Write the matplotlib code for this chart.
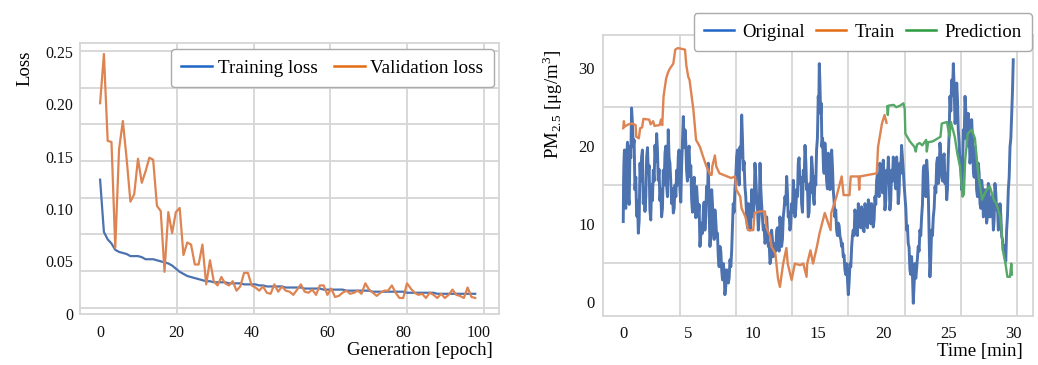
import numpy as np
import matplotlib
matplotlib.use('Agg')
import matplotlib.pyplot as plt
from matplotlib.lines import Line2D

plt.rcParams['font.family'] = ['Liberation Serif', 'DejaVu Serif']
plt.rcParams['mathtext.fontset'] = 'stix'

# ---- left panel: loss curves ----
epochs = np.arange(100)
train_loss = [0.128, 0.078, 0.071, 0.067, 0.061, 0.059, 0.058, 0.057, 0.055, 0.055,
              0.055, 0.054, 0.052, 0.052, 0.052, 0.051, 0.050, 0.049, 0.048, 0.046,
              0.043, 0.040, 0.038, 0.036, 0.035, 0.034, 0.033, 0.032, 0.031, 0.031,
              0.030, 0.030, 0.030, 0.030, 0.029, 0.029, 0.029, 0.029, 0.028, 0.028,
              0.028, 0.028, 0.027, 0.027, 0.026, 0.026, 0.026, 0.026, 0.026, 0.025,
              0.025, 0.025, 0.025, 0.025, 0.024, 0.024, 0.024, 0.024, 0.024, 0.023,
              0.023, 0.023, 0.023, 0.023, 0.023, 0.022, 0.022, 0.022, 0.022, 0.022,
              0.022, 0.022, 0.021, 0.021, 0.021, 0.021, 0.021, 0.021, 0.021, 0.021,
              0.021, 0.020, 0.020, 0.020, 0.020, 0.020, 0.020, 0.020, 0.020, 0.019,
              0.019, 0.019, 0.019, 0.019, 0.019, 0.019, 0.019, 0.019, 0.019, 0.019]
val_loss = [0.201, 0.248, 0.165, 0.164, 0.063, 0.157, 0.184, 0.148, 0.107, 0.114,
            0.148, 0.125, 0.136, 0.149, 0.147, 0.103, 0.098, 0.040, 0.097, 0.077,
            0.097, 0.101, 0.056, 0.068, 0.066, 0.047, 0.047, 0.066, 0.028, 0.051,
            0.031, 0.027, 0.035, 0.029, 0.027, 0.031, 0.022, 0.026, 0.039, 0.039,
            0.027, 0.025, 0.022, 0.026, 0.020, 0.019, 0.028, 0.021, 0.026, 0.022,
            0.021, 0.018, 0.023, 0.028, 0.021, 0.020, 0.023, 0.018, 0.027, 0.027,
            0.018, 0.024, 0.016, 0.017, 0.020, 0.022, 0.019, 0.020, 0.022, 0.019,
            0.029, 0.023, 0.020, 0.017, 0.020, 0.022, 0.022, 0.027, 0.020, 0.015,
            0.015, 0.029, 0.024, 0.020, 0.018, 0.019, 0.015, 0.020, 0.018, 0.015,
            0.019, 0.015, 0.018, 0.023, 0.018, 0.017, 0.015, 0.025, 0.016, 0.015]

# ---- right panel: PM2.5 time series ----
orig_t = [0.0, 0.05, 0.13, 0.26, 0.39, 0.52, 0.64, 0.77, 0.90, 1.03, 1.16, 1.29, 1.41, 1.54,
          1.67, 1.80, 1.93, 2.05, 2.18, 2.31, 2.44, 2.57, 2.69, 2.82, 2.95, 3.08, 3.21, 3.34,
          3.46, 3.59, 3.72, 3.85, 3.98, 4.11, 4.23, 4.36, 4.49, 4.62, 4.75, 4.87, 5.00, 5.13,
          5.26, 5.39, 5.52, 5.64, 5.77, 5.90, 6.03, 6.16, 6.28, 6.41, 6.54,
          6.67, 6.80, 6.93, 7.05, 7.18, 7.31, 7.44, 7.57, 7.70, 7.82, 7.95, 8.08, 8.21, 8.34,
          8.46, 8.59, 8.72, 8.85, 8.98, 9.11, 9.23, 9.36, 9.49, 9.62, 9.75, 9.88, 10.00,
          10.13, 10.26, 10.39, 10.52, 10.64, 10.77, 10.90, 11.03, 11.16, 11.29, 11.41, 11.54,
          11.67, 11.80, 11.93, 12.05, 12.18, 12.31, 12.44, 12.57, 12.69, 12.82, 12.95, 13.08,
          13.21, 13.34, 13.46, 13.59, 13.72, 13.85, 13.98, 14.11, 14.23, 14.36, 14.49, 14.62,
          14.75, 14.87, 15.00, 15.08, 15.18, 15.28, 15.39, 15.51, 15.64, 15.77, 15.90, 16.03,
          16.15, 16.28, 16.41, 16.54, 16.67, 16.80, 16.92, 17.05, 17.18, 17.31, 17.44, 17.57,
          17.69, 17.82, 17.95, 18.08, 18.21, 18.33, 18.46, 18.59, 18.72, 18.85, 18.98, 19.10,
          19.23, 19.36, 19.49, 19.62, 19.74, 19.87, 20.00, 20.13, 20.26, 20.39, 20.51, 20.64,
          20.77, 20.90, 21.03, 21.15, 21.28, 21.41, 21.54, 21.67, 21.80, 21.92, 22.05, 22.18,
          22.31, 22.44, 22.56, 22.69, 22.82, 22.95, 23.08, 23.21, 23.34, 23.47, 23.59, 23.72,
          23.85, 23.98, 24.11, 24.23, 24.36, 24.49, 24.62, 24.75, 24.88, 25.00, 25.13, 25.26,
          25.39, 25.52, 25.65, 25.77, 25.90, 26.03, 26.16, 26.29, 26.41, 26.54, 26.67, 26.80,
          26.93, 27.06, 27.18, 27.31, 27.44, 27.57, 27.70, 27.82, 27.95, 28.08, 28.21, 28.34,
          28.47, 28.59, 28.72, 28.85, 28.98, 29.11, 29.23, 29.36, 29.49, 29.62, 29.75, 29.88,
          30.00]
orig_v = [10.3, 17.8, 13.0, 18.6, 13.5, 20.0, 24.9, 19.9, 14.4, 11.0, 8.8, 17.8, 18.6, 12.6,
          11.6, 18.6, 16.5, 11.8, 15.0, 16.9, 20.1, 21.6, 15.6, 13.0, 10.9, 16.9, 19.1, 14.8,
          22.1, 17.8, 12.6, 11.4, 15.0, 16.9, 18.6, 14.4, 17.4, 23.8, 22.1, 16.9, 19.1, 16.1,
          13.1, 14.8, 12.2, 14.8, 10.9, 7.1, 10.1, 11.8, 9.2, 14.8, 17.8,
          7.1, 14.4, 9.2, 11.8, 8.4, 5.8, 7.1, 4.1, 4.9, 0.9, 4.1, 2.4, 5.4, 6.6,
          12.6, 14.4, 18.6, 16.9, 19.9, 24.0, 16.9, 14.8, 10.9, 12.6, 9.2, 14.4, 10.9,
          17.8, 13.5, 9.2, 17.8, 12.6, 9.2, 7.5, 10.9, 7.1, 4.9, 9.2, 5.8,
          7.5, 9.2, 7.1, 10.9, 7.1, 10.9, 13.5, 16.1, 10.9, 9.2, 12.6, 15.6,
          10.9, 14.4, 17.8, 15.2, 12.6, 16.9, 20.1, 14.4, 10.9, 15.2, 18.6, 13.5,
          16.1, 19.5, 26.4, 30.6, 24.2, 19.9, 17.8, 20.4, 15.6, 19.1, 14.4, 19.5,
          14.4, 10.9, 9.2, 10.1, 8.4, 7.1, 5.8, 4.1, 4.9, 0.9, 4.9, 7.1,
          9.2, 11.8, 9.2, 12.6, 10.1, 12.2, 9.2, 12.6, 10.1, 13.1, 10.9, 12.6,
          9.6, 13.5, 15.6, 14.4, 17.8, 15.2, 18.2, 11.8, 16.9, 18.6, 11.8, 16.9,
          18.6, 15.6, 18.6, 12.6, 17.8, 20.1, 16.9, 13.5, 9.2, 7.5, 4.1, 5.8,
          -0.2, 4.9, 4.1, 7.1, 9.2, 10.9, 16.9, 14.4, 18.2, 13.5, 3.2, 9.2,
          10.9, 14.8, 17.8, 15.2, 20.4, 16.9, 18.6, 15.2, 13.1, 18.6, 26.4, 28.5,
          30.6, 22.9, 28.1, 22.1, 17.8, 14.4, 22.1, 26.4, 21.2, 24.2, 17.8, 23.4,
          16.9, 19.9, 14.4, 17.8, 12.6, 15.6, 10.9, 14.4, 10.1, 15.2, 10.9, 13.5,
          9.2, 15.2, 11.8, 9.2, 12.6, 8.4, 6.6, 5.8, 9.2, 14.4, 19.9, 24.2,
          31.1]
# readings taken between the samples above (the fast jitter of the sensor)
orig_v_between = [15.5, 19.5, 12.0, 20.5, 12.5, 18.5, 23.0, 20.8, 16.0, 13.0, 10.5, 15.5, 19.5, 14.5,
                  13.5, 19.8, 17.5, 10.5, 13.0, 15.5, 18.0, 19.5, 17.0, 14.5, 12.0, 15.0, 20.0, 13.5,
                  18.5, 15.5, 14.5, 12.0, 13.5, 15.0, 19.5, 12.8, 20.5, 19.8, 20.5, 15.5, 20.0, 17.5,
                  11.5, 16.0, 10.8, 13.0, 12.5, 8.5, 8.8, 12.8, 11.0, 13.0, 12.0,
                  9.0, 12.5, 8.0, 10.5, 8.8, 4.5, 6.5, 2.8, 3.8, 2.0, 3.5, 3.0, 4.5, 9.5,
                  11.5, 16.0, 19.5, 15.0, 18.5, 21.0, 18.0, 13.5, 9.5, 11.5, 10.5, 13.0, 12.5,
                  16.0, 12.0, 11.0, 14.5, 11.0, 9.8, 8.0, 9.0, 7.5, 5.5, 8.0, 6.0,
                  6.5, 9.5, 6.5, 9.5, 8.0, 12.0, 12.5, 14.0, 11.5, 10.0, 11.5, 13.5,
                  12.0, 13.5, 18.5, 16.0, 11.5, 15.5, 18.0, 15.0, 11.5, 14.0, 17.0, 12.5,
                  15.0, 21.0, 25.0, 28.0, 25.5, 21.0, 16.5, 18.5, 14.5, 17.0, 15.5, 17.5,
                  13.0, 11.8, 8.5, 9.8, 8.0, 7.5, 6.0, 3.5, 3.0, 2.5, 4.5, 8.5,
                  8.5, 11.0, 8.5, 11.5, 9.5, 11.5, 9.0, 12.0, 9.5, 12.5, 10.0, 11.5,
                  10.5, 12.5, 16.5, 13.5, 17.0, 14.0, 16.0, 13.0, 15.5, 16.0, 13.0, 15.5,
                  17.5, 14.5, 17.0, 14.0, 16.5, 18.5, 15.0, 12.0, 9.8, 7.0, 3.5, 3.5,
                  2.5, 3.0, 5.5, 6.5, 8.5, 12.5, 17.5, 13.5, 16.5, 8.0, 5.5, 8.5,
                  12.0, 14.0, 18.5, 16.0, 19.0, 15.5, 19.0, 16.5, 14.5, 21.5, 24.5, 26.5,
                  27.5, 24.0, 26.0, 20.5, 18.5, 16.5, 21.0, 24.5, 20.0, 22.5, 19.0, 21.0,
                  16.0, 18.5, 13.5, 16.5, 12.0, 14.5, 11.5, 13.0, 11.0, 13.5, 11.0, 12.5,
                  10.5, 14.0, 12.5, 10.0, 11.0, 8.0, 7.2, 5.2, 11.0, 16.0, 21.0, 27.0]

train_t = [0.0, 0.05, 0.1, 0.4, 0.7, 0.95, 1.0, 1.2, 1.3, 1.45, 1.55, 2.0, 2.1, 2.3, 2.4,
           2.8, 2.9, 3.0, 3.1, 3.3, 3.45, 3.6, 3.85, 4.0, 4.2, 4.5, 4.75, 4.85, 5.0, 5.1,
           5.2, 5.4, 5.6, 5.9, 6.15, 6.4, 6.7, 6.8, 6.85, 7.05, 7.15, 7.4, 7.7, 8.0, 8.3,
           8.6, 8.7, 9.0, 9.1, 9.4, 9.6, 10.0, 10.1, 10.5, 10.9, 11.0, 11.3, 11.4, 11.7,
           11.9, 12.05, 12.3, 12.55, 12.65, 12.95, 13.2, 13.6, 13.85, 14.1, 14.15, 14.4,
           14.6, 14.9, 15.1, 15.5, 15.95, 16.0, 16.4, 16.8, 16.95, 17.4, 17.5, 18.1, 18.15,
           18.2, 19.5, 19.6, 19.9, 20.1, 20.25]
train_v = [22.3, 23.2, 22.5, 22.8, 22.9, 22.7, 21.2, 21.0, 22.3, 22.4, 23.5, 23.4, 22.8,
           23.2, 22.6, 22.7, 23.4, 22.7, 26.4, 28.7, 29.5, 30.0, 30.6, 32.4, 32.6, 32.5,
           32.4, 30.4, 28.9, 28.5, 27.2, 24.6, 20.8, 19.9, 18.6, 17.4, 16.3, 16.3, 17.4,
           18.8, 17.4, 16.5, 16.3, 16.1, 15.9, 16.1, 14.4, 13.5, 12.0, 10.9, 9.2, 9.2,
           11.4, 11.6, 11.6, 9.6, 8.4, 7.1, 6.2, 3.0, 1.9, 4.9, 6.9, 4.9, 2.8, 4.9, 4.7,
           4.9, 3.2, 4.9, 6.6, 4.9, 7.1, 8.8, 11.4, 9.2, 11.4, 13.5, 16.1, 13.7, 13.7,
           16.1, 16.1, 14.4, 16.1, 16.5, 19.9, 22.9, 24.0, 23.0]

pred_t = [20.3, 20.35, 20.4, 20.8, 21.0, 21.3, 21.55, 21.65, 21.7, 22.05, 22.4, 22.5,
          22.6, 22.8, 23.0, 23.3, 23.35, 23.45, 23.8, 24.1, 24.4, 24.5, 24.9, 25.1, 25.2,
          25.5, 25.7, 25.9, 26.1, 26.2, 26.3, 26.5, 26.8, 27.05, 27.3, 27.6, 27.8, 28.0,
          28.2, 28.5, 28.7, 29.0, 29.1, 29.2, 29.4, 29.55, 29.75, 29.85, 29.9]
pred_v = [25.1, 24.0, 25.2, 25.3, 25.0, 25.2, 25.5, 24.8, 21.6, 20.6, 19.9, 19.3, 20.2,
          20.4, 20.1, 20.8, 19.3, 20.5, 20.6, 20.9, 21.2, 22.9, 23.1, 21.2, 23.1, 21.2,
          19.0, 17.4, 13.5, 13.8, 18.2, 21.6, 22.1, 21.0, 16.5, 13.1, 13.9, 14.5, 14.8,
          13.1, 12.6, 10.9, 9.2, 6.6, 4.9, 3.2, 3.2, 4.9, 3.5]

# put the in-between readings back in time order with the main samples
t_arr = np.array(orig_t)
t_between = (t_arr[:-1] + t_arr[1:]) / 2
n = min(len(t_between), len(orig_v_between))
orig_full_t = np.empty(len(orig_t) + n)
orig_full_v = np.empty(len(orig_t) + n)
orig_full_t[0::2][:len(orig_t)] = orig_t
orig_full_v[0::2][:len(orig_t)] = orig_v
orig_full_t[1::2][:n] = t_between[:n]
orig_full_v[1::2][:n] = orig_v_between[:n]

grid_c = '#d6d6d6'
fig = plt.figure(figsize=(10.38, 3.65), dpi=100)
ax1 = fig.add_axes([0.0771, 0.1397, 0.4037, 0.7425])
ax2 = fig.add_axes([0.5809, 0.1342, 0.4143, 0.7699])

for ax in (ax1, ax2):
    ax.set_facecolor('white')
    for s in ax.spines.values():
        s.set_color(grid_c)
        s.set_linewidth(1.3)
    ax.tick_params(which='both', length=0, colors='#111111')
    ax.grid(False, which='major')
    ax.grid(True, which='minor', color=grid_c, linewidth=1.3)
    ax.set_axisbelow(True)

# left
ax1.plot(epochs, train_loss, color='#4c72b0', lw=1.6)
ax1.plot(epochs, val_loss, color='#dd8452', lw=1.6)
ax1.set_xlim(-5.3, 105.3)
ax1.set_ylim(-0.0003, 0.2585)
ax1.set_xticks([0, 20, 40, 60, 80, 100])
ax1.set_yticks([0, 0.05, 0.10, 0.15, 0.20, 0.25])
ax1.set_yticklabels(['0', '0.05', '0.10', '0.15', '0.20', '0.25'])
ax1.set_xticks([20.26 * k for k in range(6)], minor=True)
ax1.set_yticks([0.0057 + 0.035 * k for k in range(8)], minor=True)
ax1.tick_params(axis='both', which='major', labelsize=11.5)
ax1.tick_params(axis='x', pad=8)
ax1.tick_params(axis='y', pad=5)
ax1.set_xlabel('Generation [epoch]', fontsize=13.5, loc='right')
ax1.xaxis.set_label_coords(0.986, -0.105)
ax1.set_ylabel('Loss', fontsize=13.5)
ax1.yaxis.set_label_coords(-0.112, 0.905)
h1 = [Line2D([], [], color='#1f66c4', lw=1.8), Line2D([], [], color='#e36c12', lw=1.8)]
leg1 = ax1.legend(h1, ['Training loss', 'Validation loss'], ncol=2, loc='upper right',
                  bbox_to_anchor=(0.988, 0.978), borderaxespad=0, fontsize=13.8,
                  handlelength=1.6, handletextpad=0.3, columnspacing=0.85,
                  borderpad=0.55, fancybox=True, framealpha=1, edgecolor='#aaaaaa')
leg1.get_frame().set_linewidth(1.0)

# right
ax2.plot(orig_full_t, orig_full_v, color='#4c72b0', lw=2.1)
ax2.plot(train_t, train_v, color='#dd8452', lw=1.7)
ax2.plot(pred_t, pred_v, color='#55a868', lw=1.7)
ax2.set_xlim(-1.56, 31.52)
ax2.set_ylim(-1.84, 34.28)
ax2.set_xticks([0, 5, 10, 15, 20, 25, 30])
ax2.set_yticks([0, 10, 20, 30])
ax2.set_xticks([4.33 * k for k in range(8)], minor=True)
ax2.set_yticks([0, 5, 10, 15, 20, 25, 30], minor=True)
ax2.tick_params(axis='both', which='major', labelsize=12)
ax2.tick_params(axis='x', pad=7)
ax2.tick_params(axis='y', pad=6)
ax2.set_xlabel('Time [min]', fontsize=13.5, loc='right')
ax2.xaxis.set_label_coords(0.977, -0.095)
ax2.set_ylabel(r'PM$_\mathregular{2.5}$ [μg/m$^\mathregular{3}$]', fontsize=13.5)
ax2.yaxis.set_label_coords(-0.088, 0.753)
h2 = [Line2D([], [], color='#1f66c4', lw=1.8), Line2D([], [], color='#e36c12', lw=1.8),
      Line2D([], [], color='#2a9a3e', lw=1.8)]
leg2 = ax2.legend(h2, ['Original', 'Train', 'Prediction'], ncol=3, loc='upper right',
                  bbox_to_anchor=(0.998, 1.078), borderaxespad=0, fontsize=13.5,
                  handlelength=1.6, handletextpad=0.45, columnspacing=0.6,
                  borderpad=0.55, fancybox=True, framealpha=1, edgecolor='#aaaaaa')
leg2.get_frame().set_linewidth(1.0)

fig.savefig('out.png', dpi=100)
